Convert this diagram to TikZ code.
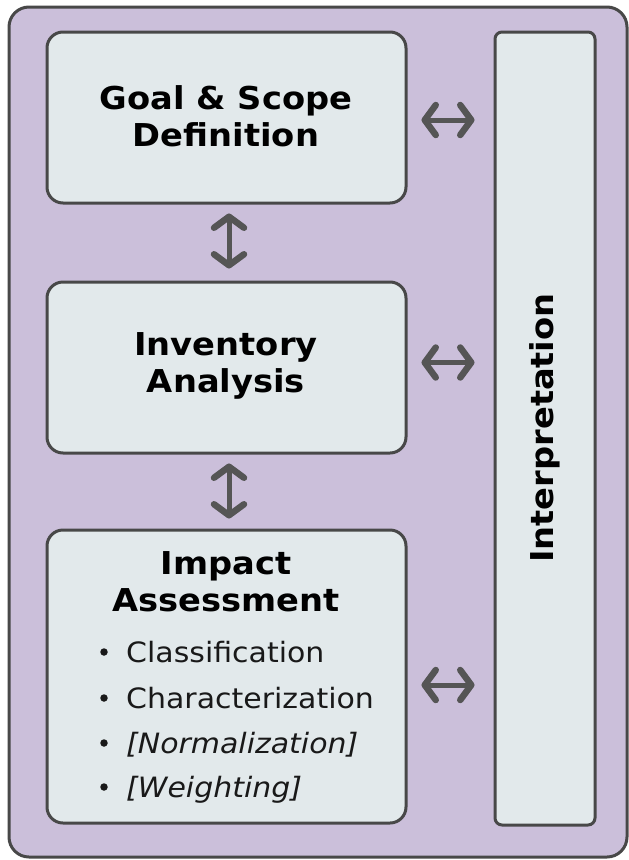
\documentclass[tikz,border=0pt]{standalone}
\usepackage{fontspec}
\setmainfont[FakeStretch=1.07]{DejaVu Sans}
\usetikzlibrary{arrows.meta}
\definecolor{bgpurple}{HTML}{CBBFDA}
\definecolor{boxfill}{HTML}{E2E9EB}
\definecolor{edgegrey}{HTML}{484848}
\definecolor{arrowgrey}{HTML}{555555}
\begin{document}
\begin{tikzpicture}[x=1pt,y=-1pt,
  frame/.style={draw=edgegrey, line width=3pt, fill=bgpurple, rounded corners=20pt, minimum width=618pt, minimum height=850pt, inner sep=0pt},
  stage/.style={draw=edgegrey, line width=3pt, fill=boxfill, rounded corners=16pt, minimum width=359pt, inner sep=0pt},
  interpbox/.style={draw=edgegrey, line width=3pt, fill=boxfill, rounded corners=7pt, minimum width=100pt, minimum height=793pt, inner sep=0pt},
  title/.style={font=\fontsize{31.5}{37}\selectfont\bfseries, align=center, text=black},
  itemtext/.style={font=\fontsize{28}{34}\selectfont, anchor=base west, inner sep=0pt, text=black!90},
  bulletdot/.style={circle, fill=black!90, inner sep=0pt, minimum size=7.5pt},
  link/.style={draw=arrowgrey, line width=5pt, {Straight Barb[length=11pt,width=30pt,line width=6.5pt,round]}-{Straight Barb[length=11pt,width=30pt,line width=6.5pt,round]}}]
\useasboundingbox (0,0) rectangle (629,860);
\node[frame] (frame) at (318,432) {};
\node[stage, minimum height=171pt] (goal) at (226.5,117.5) {};
\node[stage, minimum height=171pt] (inv) at (226.5,367.5) {};
\node[stage, minimum height=293pt] (imp) at (226.5,676.5) {};
\node[interpbox] (interp) at (545,428.5) {};
\node[title] (goalt) at (226,116) {Goal \& Scope\\Definition};
\node[title] (invt) at (226,366) {Inventory\\Analysis};
\node[title] (impt) at (226,582) {Impact\\Assessment};
\node[title, rotate=90] (interpt) at (545,428) {Interpretation};
\node[itemtext] (i1) at (126,662) {Classification};
\node[itemtext] (i2) at (126,708) {Characterization};
\node[itemtext] (i3) at (126,753) {\itshape [Normalization]};
\node[itemtext] (i4) at (126,797) {\itshape [Weighting]};
\node[bulletdot] (d1) at (104,652) {};
\node[bulletdot] (d2) at (104,698) {};
\node[bulletdot] (d3) at (104,743) {};
\node[bulletdot] (d4) at (104,787) {};
\draw[link] ([xshift=14pt,yshift=-2.5pt]goal.east) -- ([xshift=-19pt,yshift=-2.5pt]goal.east -| interp.west);
\draw[link] ([xshift=14pt,yshift=5pt]inv.east) -- ([xshift=-19pt,yshift=5pt]inv.east -| interp.west);
\draw[link] ([xshift=14pt,yshift=-8.5pt]imp.east) -- ([xshift=-19pt,yshift=-8.5pt]imp.east -| interp.west);
\draw[link] ([xshift=2.5pt,yshift=-9pt]goal.south) -- ([xshift=2.5pt,yshift=12pt]inv.north);
\draw[link] ([xshift=2.5pt,yshift=-9pt]inv.south) -- ([xshift=2.5pt,yshift=10pt]imp.north);
\end{tikzpicture}
\end{document}
